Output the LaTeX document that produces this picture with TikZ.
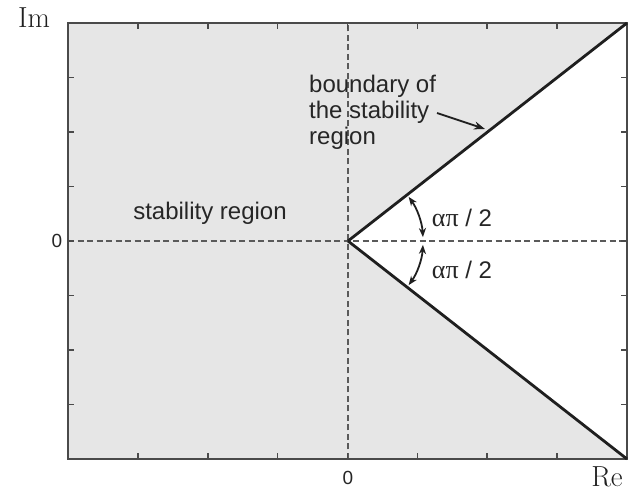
\documentclass[tikz,border=0pt]{standalone}
\usepackage{fontspec}
\newfontfamily\lblfont{Liberation Sans}
\newfontfamily\grkfont{Liberation Serif}
\usetikzlibrary{arrows.meta}
\definecolor{regiongray}{HTML}{E6E6E6}
\definecolor{framegray}{HTML}{4A4A4A}
\definecolor{dashgray}{HTML}{5A5A5A}
\tikzset{
  frameline/.style={draw=framegray, line width=2.4pt},
  tickline/.style={draw=framegray, line width=1.6pt},
  axisdash/.style={draw=dashgray, line width=1.7pt, dash pattern=on 6pt off 3.5pt},
  boundline/.style={draw=black!88, line width=2.8pt},
  anglearrow/.style={draw=black!88, line width=1.8pt, {Stealth[length=9pt,width=7pt]}-{Stealth[length=9pt,width=7pt]}},
  lbl/.style={font=\lblfont\fontsize{24}{26}\selectfont, text=black!85, inner sep=0pt},
  axlbl/.style={font=\fontsize{29}{29}\selectfont, text=black!88, inner sep=0pt},
  zerolbl/.style={font=\lblfont\fontsize{19}{19}\selectfont, text=black!85, inner sep=0pt},
}
\begin{document}
\begin{tikzpicture}[x=1pt,y=1pt]
\useasboundingbox (0,0) rectangle (634,495);
\coordinate (TL) at (68,472);
\coordinate (TR) at (627,472);
\coordinate (BR) at (627,36);
\coordinate (BL) at (68,36);
\coordinate (O) at (348,254);
% shaded stability region
\fill[regiongray] (TL) -- (TR) -- (O) -- (BR) -- (BL) -- cycle;
% dashed axes
\draw[axisdash] (68,254) -- (627,254);
\draw[axisdash] (348,36) -- (348,472);
% ticks
\foreach \k in {1,...,7} {
  \pgfmathsetmacro{\xx}{68+69.875*\k}
  \pgfmathsetmacro{\yy}{36+54.5*\k}
  \draw[tickline] (\xx,36) -- (\xx,42);
  \draw[tickline] (\xx,472) -- (\xx,466);
  \draw[tickline] (68,\yy) -- (74,\yy);
  \draw[tickline] (627,\yy) -- (621,\yy);
}
% frame
\draw[frameline] (TL) rectangle (BR);
% boundary lines
\draw[boundline] (O) -- (TR);
\draw[boundline] (O) -- (BR);
% angle arcs
\draw[anglearrow] ([shift={(O)}]36:75) arc[start angle=36, end angle=3, radius=75];
\draw[anglearrow] ([shift={(O)}]-3:75) arc[start angle=-3, end angle=-36, radius=75];
% labels
\node[axlbl] (im) at (34,477) {Im};
\node[axlbl] (re) at (607,18) {Re};
\node[zerolbl] (zl) at (57,254) {0};
\node[zerolbl] (zb) at (348,17) {0};
\node[lbl] (stab) at (210,282) {stability region};
\node[lbl, anchor=west, align=left] (bnd) at (309,383) {boundary of\\the stability\\region};
\coordinate (bndtip) at (485,366);
\draw[draw=black!88, line width=1.8pt, -{Stealth[length=11pt,width=8pt]}] (437,382) -- (bndtip);
\node[lbl] (a1) at (462,277) {{\grkfont\fontsize{26}{26}\selectfont απ} / 2};
\node[lbl] (a2) at (462,225) {{\grkfont\fontsize{26}{26}\selectfont απ} / 2};
\end{tikzpicture}
\end{document}
